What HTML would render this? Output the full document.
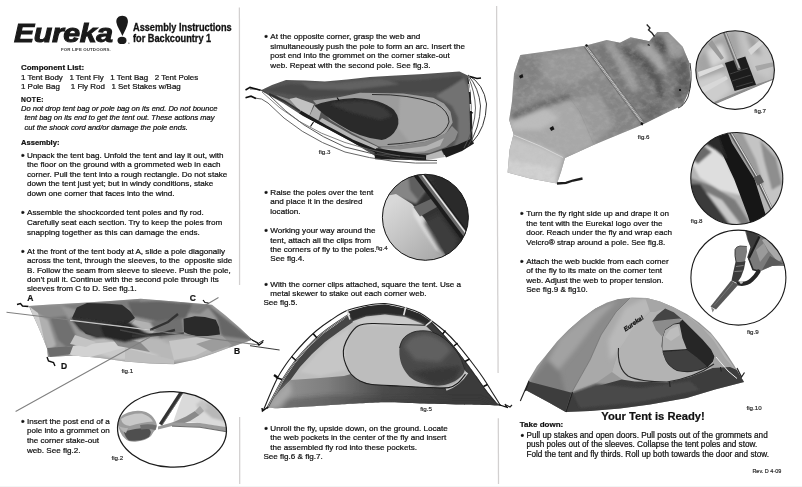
<!DOCTYPE html>
<html><head><meta charset="utf-8"><title>Assembly Instructions for Backcountry 1</title>
<style>
html,body{margin:0;padding:0;background:#fff;}
body{width:802px;height:487px;position:relative;overflow:hidden;font-family:"Liberation Sans",sans-serif;color:#111;}
.t{position:absolute;white-space:nowrap;font-size:8.1px;}
.b{font-weight:bold;}
.i{font-style:italic;}
.t{-webkit-text-stroke:0.22px #111;}
.f{-webkit-text-stroke:0.15px #222;color:#222}
#all{position:absolute;left:0;top:0;width:802px;height:487px;will-change:transform;}
#g{position:absolute;left:0;top:0;}
.fold{position:absolute;width:1px;background:#cfcfcf;}
#logo{position:absolute;left:14px;top:18px;font:italic bold 25.2px/30px "Liberation Sans",sans-serif;transform:scaleX(1.2);transform-origin:0 0;letter-spacing:-0.3px;color:#1a1a1a;-webkit-text-stroke:0.95px #1a1a1a;}
#tag{position:absolute;left:61px;top:47.9px;font:bold 8px/10px "Liberation Sans",sans-serif;transform:scale(0.55,0.47);transform-origin:0 0;white-space:nowrap;letter-spacing:0.2px;color:#3a3a3a;}
#title{position:absolute;left:133.1px;top:21.8px;font:bold 10.6px/11.4px "Liberation Sans",sans-serif;-webkit-text-stroke:0.3px #111;transform:scaleX(0.868);transform-origin:0 0;white-space:nowrap;color:#111;}
#strip{position:absolute;left:0;top:485.5px;width:802px;height:2px;background:#f2f5f5;}
</style></head><body><div id="all">
<div id="strip"></div>
<svg id="g" width="802" height="487" viewBox="0 0 802 487">
<!-- exclamation mark of logo -->
<path d="M122.3 15.8 C126.2 15.8 128.3 18.6 127.9 22.2 C127.5 26.5 124.6 31 122.4 36 C120.6 31 117 26.8 116.4 22.4 C115.9 18.6 118.4 15.8 122.3 15.8 Z" fill="#1a1a1a"/>
<ellipse cx="122" cy="40.4" rx="4.5" ry="3.7" fill="#1a1a1a"/>
<circle cx="128.9" cy="43.2" r="0.6" fill="#444"/>

<defs>
<filter id="b05" x="-5%" y="-5%" width="110%" height="110%"><feGaussianBlur stdDeviation="0.5"/></filter>
<filter id="b1" x="-5%" y="-5%" width="110%" height="110%"><feGaussianBlur stdDeviation="1"/></filter>
<filter id="b2" x="-10%" y="-10%" width="120%" height="120%"><feGaussianBlur stdDeviation="2"/></filter>
<filter id="b3" x="-10%" y="-10%" width="120%" height="120%"><feGaussianBlur stdDeviation="3.5"/></filter>
<filter id="wr" x="0" y="0" width="100%" height="100%">
<feTurbulence type="fractalNoise" baseFrequency="0.16 0.2" numOctaves="3" seed="7" result="n"/>
<feColorMatrix in="n" type="matrix" values="0 0 0 0 0.5  0 0 0 0 0.5  0 0 0 0 0.5  1.6 0 0 0 -0.62"/>
<feComposite in2="SourceGraphic" operator="in"/>
</filter>
<filter id="wr2" x="0" y="0" width="100%" height="100%">
<feTurbulence type="turbulence" baseFrequency="0.11 0.2" numOctaves="2" seed="3" result="n"/>
<feColorMatrix in="n" type="matrix" values="0 0 0 0 0.92  0 0 0 0 0.92  0 0 0 0 0.92  3.2 0 0 0 -0.62"/>
<feComposite in2="SourceGraphic" operator="in"/>
</filter>
<filter id="wr3" x="0" y="0" width="100%" height="100%">
<feTurbulence type="turbulence" baseFrequency="0.13 0.22" numOctaves="2" seed="11" result="n"/>
<feColorMatrix in="n" type="matrix" values="0 0 0 0 0.2  0 0 0 0 0.2  0 0 0 0 0.2  0 3.2 0 0 -0.7"/>
<feComposite in2="SourceGraphic" operator="in"/>
</filter>
</defs>

<!-- fig.1 flat tent with poles -->
<g id="fig1">
<clipPath id="c1"><path d="M28.8 306 L50 304.5 L78.5 303 L110 301 L140.7 298.7 L175 301.5 L212 304.8 L225 315 L240 328 L252.4 339.7 L240 344 L229.7 347.6 L212 354 L194.8 359.8 L173.9 364.2 L150 363.5 L125 361.5 L100 358 L73.3 355.4 L58 356.5 L48 357 L47 348.5 L43 338 L37 324 Z"/></clipPath>
<g filter="url(#b05)">
<g clip-path="url(#c1)">
<rect x="20" y="295" width="240" height="75" fill="#979797"/>
<g filter="url(#b1)">
<!-- left side grey folds -->
<path d="M29 306 L60 305 L70 320 L80 345 L75 356 L48 357 L40 330 Z" fill="#8a8a8a"/>
<path d="M50 318 L66 316 L78 340 L72 352 L58 340 Z" fill="#707070"/>
<path d="M34 312 L48 320 L56 345 L48 352 Z" fill="#b0b0b0"/>
<!-- light bottom area -->
<path d="M75 345 L110 335 L150 338 L190 340 L230 338 L245 342 L195 360 L150 364 L100 358 L73 356 Z" fill="#b8b8b8"/>
<path d="M85 350 L130 345 L160 356 L120 360 Z" fill="#cacaca"/>
<path d="M160 340 L200 336 L225 340 L190 352 Z" fill="#aaaaaa"/>
<!-- top strip -->
<path d="M60 305 L140 299 L212 305 L200 314 L140 308 L80 311 Z" fill="#7c7c7c"/>
<path d="M140 300 L180 302 L185 318 L160 322 L138 314 Z" fill="#969696"/>
<!-- right triangle darker -->
<path d="M205 303 L253 340 L232 346 L221 334 L217 318 Z" fill="#666"/>
<path d="M222 336 L252 340 L230 348 Z" fill="#8c8c8c"/>
</g>
<g filter="url(#b05)">
<path d="M30 307 L38 313 L46 347 L42 342 L34 322 Z" fill="#cdcdcd"/>
<path d="M52 349 L87 344 L122 341 L126 347 L87 358 L73 355.5 Z" fill="#d2d2d2"/>
<path d="M75 335 L96 342 L86 347 L70 344 Z" fill="#c4c4c4"/>
<path d="M135 320 L160 325 L151 335 L125 332 Z" fill="#b2b2b2"/>
<path d="M169 341 L198 337 L223 342 L195 356 L174 360 Z" fill="#c6c6c6"/>
<path d="M125 348 L174 360 L174 364 L125 361.5 Z" fill="#bebebe"/>
<path d="M47 348 L73 346 L70 354 L50 357 Z" fill="#6c6c6c"/>
<path d="M110 336 L140 342 L150 352 L118 346 Z" fill="#8a8a8a"/>
<path d="M160 305 L185 308 L182 316 L165 314 Z" fill="#a8a8a8"/>
<path d="M196 344 L222 336 L232 345 L212 352 Z" fill="#9c9c9c"/>
</g>
<g filter="url(#b1)"><path d="M128 302 L160 301 L192 304 L186 318 L160 322 L132 316 Z" fill="#636363"/><path d="M150 322 L182 318 L184 332 L160 338 Z" fill="#707070"/></g>
<!-- dark patch left -->
<path d="M76.8 307.5 L87 303 L105 303.5 L122 304.8 L130 311 L135 318 L128 323 L120 327 L108 333 L98 337 L86 334 L78 326 L72 318 Z" fill="#2e2e2e"/>
<g filter="url(#b1)">
<path d="M70 318 L100 322 L130 327 L150 334 L120 338 L96 338 L80 330 Z" fill="#3a3a3a"/>
<path d="M100 326 L128 322 L138 328 L150 336 L125 342 L105 338 Z" fill="#262626"/>
</g>
<!-- dark patch right -->
<path d="M183.5 318.8 L194.8 316.2 L205 317 L215.8 319.7 L219 327 L220 334.5 L208 336 L196.5 336.2 L188 334 L184 331.9 Z" fill="#2a2a2a"/>
<!-- dark sleeves middle -->
<path d="M150 330 L168 322 L178 314 M132 336 L160 334 L175 330" stroke="#333" stroke-width="2.4" fill="none"/>
<path d="M120 330 L150 336 L184 333" stroke="#444" stroke-width="1.6" fill="none"/>
</g>
<!-- poles -->
<path d="M6.5 312.2 L120 326 L259 345" stroke="#808080" stroke-width="1.1" fill="none"/>
<path d="M70 320.3 L150 330" stroke="#d8d8d8" stroke-width="0.9" fill="none"/>
<path d="M218.5 297.5 L196.5 310.5 M150 337 L15.6 411.5" stroke="#808080" stroke-width="1.1" fill="none"/>
<!-- stake loops -->
<path d="M17 304.5 l3.5 -1 l2 2.5 l6 0.5" stroke="#111" stroke-width="1.4" fill="none"/>
<path d="M47 357 l1.5 4 l5 1.5 l1.5 3.5" stroke="#111" stroke-width="1.4" fill="none"/>
<path d="M252 340 l5 2.5 l2 2.5 l4 -3" stroke="#111" stroke-width="1.3" fill="none"/>
<path d="M203 300 l2 2.5 l3.5 0.5" stroke="#111" stroke-width="1.2" fill="none"/>
</g>
</g>

<!-- fig.3 tent with poles arced -->
<g id="fig3">
<clipPath id="c3"><path d="M260.5 90.4 L272 85 L286 80 L305 80.5 L324.8 81.5 L347 79.5 L369.7 77 L396 75.5 L423.5 74 L445 72.5 L459.5 71.6 L467.8 75.5 L470.5 92 L472 113.9 L472.5 140 L463 147 L446.2 154.8 L432 157.5 L410 157 L376 156.5 L352 142 L326 128 L303 116 L283 103 Z"/></clipPath>
<g filter="url(#b05)">
<g clip-path="url(#c3)">
<rect x="250" y="65" width="240" height="100" fill="#555"/>
<g filter="url(#b1)">
<path d="M262 90 L290 84 L330 86 L370 82 L420 80 L460 76 L466 80 L440 92 L400 93 L360 94 L312 98 Z" fill="#4a4a4a"/>
<path d="M300 82 L340 83 L380 79 L400 84 L350 90 L310 89 Z" fill="#626262"/>
<path d="M436 96 L452 86 L464 78 L470 92 L471 140 L462 148 L452 150 L458 136 L458 118 L452 106 Z" fill="#727272"/>
</g>
<!-- light body (inside zipper arc) -->
<path d="M313 100.5 L340 97 L360 92.8 L403 93.4 L433.3 97.7 L444 103.5 L450.5 111.7 L452.7 122.5 L446.2 133.3 L436 138.5 L424.7 141.9 L394.5 146.2 L378.7 146.5 L352 133 L330 120 Z" fill="#9c9c9c"/>
<g filter="url(#b1)"><path d="M400 96 L430 99 L446 108 L450 122 L444 133 L428 140 L410 143 L398 128 Z" fill="#a6a6a6"/></g>
<!-- strip below arc -->
<path d="M378.7 146.5 L394.5 146.2 L424.7 141.9 L446.2 133.3 L452 126 L458 132 L455 140 L446 147 L430 153 L410 154 L392 153.5 Z" fill="#8a8a8a"/>
<path d="M380 148.5 L400 149.5 L426 146 L444 138 L440 146 L424 151.5 L400 152.5 Z" fill="#b2b2b2"/>
<!-- left light panel -->
<path d="M289 99 L296 97.5 L314 104 L309 116.5 L300 111.5 Z" fill="#c2c2c2"/>
<path d="M276 95 L289 99 L300 111 L290 106 Z" fill="#8a8a8a"/>
<path d="M309 117 L315 104.5 L322 108 L318 122 Z" fill="#b0b0b0"/>
<!-- strip beside sleeve (light) -->
<path d="M318 122 L322 118 L352 135 L378 147 L376 151 L350 139 Z" fill="#b5b5b5"/>
<!-- door -->
<path d="M314.3 105.4 Q330 99 354.7 97.9 Q382 99 394 110 Q401 119 397 128 Q392 138 381.7 140 Q360 138 339.8 125 Q322 114 314.3 105.4 Z" fill="#2b2b2b"/>
<g filter="url(#b1)"><path d="M330 104 Q350 100 370 102 Q385 106 392 116 L380 120 L350 112 Z" fill="#3a3a3a"/></g>
<!-- door zipper arc -->
<path d="M372 94.5 Q410 94 435.5 103.5 Q449 111 449 122 Q446 132 435.5 137 Q415 143 387.6 144.5" stroke="#222" stroke-width="0.9" fill="none"/>
<!-- black sleeve bottom -->
<path d="M300 112 L326 127 L352 141 L376 151" stroke="#1a1a1a" stroke-width="3.4" fill="none"/>


<path d="M269 94 L284 101 L300 111" stroke="#333" stroke-width="2" fill="none"/>
<!-- right vertical black -->
<path d="M468.5 78 L470.5 100 L471.5 140" stroke="#222" stroke-width="2.2" fill="none"/>
<path d="M469.3 84 l0.6 8 M470.6 104 l0.4 7" stroke="#ddd" stroke-width="2" fill="none"/>
</g>
<!-- thick sleeves -->
<path d="M376 148.2 L426 155.2 L426.5 160.3 L375 159.2 L374.5 153.5 Z" fill="#1c1c1c"/>
<path d="M377 153.8 L425 158" stroke="#555" stroke-width="0.6" fill="none"/>
<path d="M441.5 149.5 L457 145 L471.5 138.5 L474 143.5 L462 151 L446 157.5 Z" fill="#1c1c1c"/>
<path d="M426 155.5 L441.5 150.5 L445 157 L427 160 Z" fill="#b8b8b8"/>
<!-- poles left -->
<path d="M250 89 Q263 88 270 96 Q300 128 345 147 Q400 162 437 160.5" stroke="#444" stroke-width="0.9" fill="none"/>
<path d="M254 98 Q262 97.5 268 103 Q298 135 345 152 Q395 165 437 163" stroke="#555" stroke-width="0.9" fill="none"/>
<path d="M262 92 Q296 126 345 142.5 Q380 153 400 156" stroke="#666" stroke-width="0.8" fill="none"/>
<path d="M245.5 90 l4.5 -2.6 l6 1.6 l4.5 1.2 M245.5 97.8 l5.5 -1.6 l5 2.2" stroke="#111" stroke-width="1.6" fill="none"/>
<!-- poles right -->
<path d="M468 75 Q484 84 486.5 104 Q486 128 472 142.5" stroke="#333" stroke-width="1" fill="none"/>
<path d="M468 75 Q479 88 480.5 106 Q480 128 468 146" stroke="#444" stroke-width="1" fill="none"/>
<path d="M468 76 Q475 92 475.5 108 Q475 128 464 148" stroke="#555" stroke-width="0.9" fill="none"/>
<path d="M470 76.5 L477 78.5 L481 78" stroke="#111" stroke-width="1.6" fill="none"/>
<path d="M313.5 122 l-3 4.5 M339 100.5 l-2 -3 M470 112 l3 1" stroke="#111" stroke-width="1.2" fill="none"/>
</g>
</g>

<!-- fig.2 hand inserting pole -->
<g id="fig2">
<clipPath id="c2"><ellipse cx="172" cy="429.4" rx="54.5" ry="37.8" transform="rotate(2.5 172 429.4)"/></clipPath>
<g filter="url(#b05)">
<g clip-path="url(#c2)">
<rect x="115" y="390" width="115" height="80" fill="#fff"/>
<!-- fabric right -->
<path d="M184 392 L200 396 L215 405 L226 420 L228 428 L205 424 L186 421.5 L173 422.5 L178 408 Z" fill="#dadada"/>
<g filter="url(#b1)">
<path d="M200 400 L215 406 L227 422 L212 418 L203 410 Z" fill="#b8b8b8"/>
<path d="M196 404 L204 400 L208 408 L200 414 Z" fill="#c4c4c4"/>
</g>
<path d="M171.5 423 L186 416.5 L195 411 L199.5 415 L190 421 L177 426 Z" fill="#8a8a8a"/>
<path d="M195 411 L200 406 L204 411 L199.5 415 Z" fill="#a8a8a8"/>
<path d="M158 426.5 L172 422.5 L200 423 L228 427.5 L228 432 L200 427 L172 426 L158 429.5 Z" fill="#9c9c9c"/>
<path d="M172 426.2 L200 427.3 L228 432" stroke="#4a4a4a" stroke-width="0.8" fill="none"/>
<!-- pole -->
<path d="M182.3 391 L160.5 424.5" stroke="#333" stroke-width="3.7" fill="none"/>
<path d="M183.6 392 L162 425" stroke="#777" stroke-width="0.8" fill="none"/>
<!-- hand -->
<path d="M118 424 Q118.5 416 128 412.5 Q137 409.5 146 412 Q152 414.5 155 420 Q158 425 156 429 Q153 432 151 436 Q146 440.5 137 441.5 Q129 442.5 125 438.5 Q119 433 118 424 Z" fill="#9c9c9c"/>
<g filter="url(#b05)">
<path d="M121 419 Q130 413 142 413.5 Q150 416 153 421.5 Q142 422 130 426 Q122 425 121 419 Z" fill="#c8c8c8"/>
<path d="M124 432 Q134 428 148 428 Q153 431 149 437 Q140 442 129 440.5 Q125 437 124 432Z" fill="#505050"/>
<path d="M140 425 Q150 423.5 156.5 425.5 L155.5 430 Q148 428.5 141 429.5 Z" fill="#6e6e6e"/>
<path d="M119 426 Q122 428 128 428 L126 433 Q121 431 119 426Z" fill="#b4b4b4"/>
</g>
</g>
<ellipse cx="172" cy="429.4" rx="54.5" ry="37.8" transform="rotate(2.5 172 429.4)" fill="none" stroke="#1a1a1a" stroke-width="1.25"/>
</g>
</g>

<!-- fig.5 tent body with poles -->
<g id="fig5">
<clipPath id="c5"><path d="M268.5 407.6 C265.6 406.0 274.0 397.6 276.0 394.0 C278.0 390.4 282.6 381.8 285.0 378.0 C287.4 374.2 293.1 365.7 296.0 362.0 C298.9 358.3 305.8 350.4 309.0 347.0 C312.2 343.6 319.6 336.8 323.0 334.0 C326.4 331.2 333.8 326.3 337.0 324.0 C340.2 321.7 348.7 316.0 350.0 314.5 C351.3 313.0 346.1 312.5 348.0 311.5 C349.9 310.5 361.6 307.2 366.0 306.3 C370.4 305.4 380.3 304.0 385.0 304.3 C389.7 304.6 401.3 307.5 405.5 308.6 C409.7 309.7 416.9 312.3 420.0 313.8 C423.1 315.3 428.7 319.1 431.5 321.5 C434.3 323.9 440.2 330.5 443.0 333.5 C445.8 336.5 451.9 343.3 454.5 346.5 C457.1 349.7 462.4 357.0 465.0 360.5 C467.6 364.0 473.4 371.8 476.0 375.5 C478.6 379.2 484.5 387.7 487.0 391.0 C489.5 394.3 495.4 401.3 497.0 403.0 C498.6 404.7 504.7 405.2 500.3 405.4 C495.9 405.6 469.6 404.7 460.0 404.5 C450.4 404.3 429.0 403.8 420.0 403.5 C411.0 403.2 394.6 402.2 385.0 402.3 C375.4 402.4 350.2 403.9 340.0 404.5 C329.8 405.1 308.6 406.6 300.0 407.0 C291.4 407.4 271.4 409.2 268.5 407.6 Z"/></clipPath>
<linearGradient id="g5" x1="275" y1="0" x2="450" y2="0" gradientUnits="userSpaceOnUse"><stop offset="0" stop-color="#949494"/><stop offset="0.3" stop-color="#7e7e7e"/><stop offset="0.62" stop-color="#4c4c4c"/><stop offset="1" stop-color="#3a3a3a"/></linearGradient>
<g filter="url(#b05)">
<g clip-path="url(#c5)">
<rect x="255" y="300" width="260" height="115" fill="#bdbdbd"/>
<path d="M348.0 311.5 L366.0 306.3 L385.0 304.3 L405.5 308.6 L420.0 313.8 L431.5 321.5 L426.0 325.5 L405.0 317.0 L385.0 314.5 L366.0 316.5 L352.0 321.5 Z" fill="#2c2c2c"/>
<path d="M268.5 407.6 L276.0 394.0 L285.0 378.0 L296.0 362.0 L309.0 347.0 L323.0 334.0 L337.0 324.0 L350.0 314.5 L353.0 322.0 L340.0 331.0 L325.0 342.0 L312.0 354.0 L300.0 367.0 L290.5 380.0 L279.0 392.0 Z" fill="#454545"/>
<path d="M431.5 321.5 L443.0 333.5 L454.5 346.5 L465.0 360.5 L476.0 375.5 L470.0 377.0 L460.0 364.0 L449.0 350.0 L438.0 337.5 L426.0 326.0 Z" fill="#3a3a3a"/>
<g filter="url(#b1)"><path d="M352 322 L366 317 L385 315 L405 317 L425 325 L400 326 L362 325 Z" fill="#cbcbcb"/>
<path d="M300 372 L330 340 L350 328 L345 350 L346 370 L320 376 Z" fill="#c6c6c6"/></g>
<path d="M262.0 412.0 L279.0 392.0 L290.5 380.0 L320.0 378.0 L344.0 376.0 L351.0 374.0 L360.0 381.0 L372.0 384.5 L400.0 386.0 L430.0 387.5 L448.7 387.6 L458.0 383.0 L465.5 374.1 L471.0 372.5 L478.0 377.0 L502.0 406.0 L400.0 412.0 Z" fill="url(#g5)"/>
<g filter="url(#b2)"><path d="M285 399 L330 395 L400 397.5 L480 398 L502 408 L270 412 Z" fill="#3a3a3a" opacity="0.38"/>
<path d="M268 408 L279 392 L290 381 L292 392 L280 408 Z" fill="#b0b0b0" opacity="0.7"/></g>
<path d="M465 361 L470 359 L490 390 L501 406 L484 382 L472 371 Z" fill="#707070"/>
<path d="M399.5 348.0 C399.9 344.3 401.2 341.4 403.0 339.0 C404.8 336.6 407.4 334.8 410.0 333.5 C412.6 332.2 415.2 331.3 418.5 331.0 C421.8 330.7 426.1 330.5 430.0 331.5 C433.9 332.5 438.3 334.6 442.0 337.0 C445.7 339.4 449.0 342.7 452.0 346.0 C455.0 349.3 457.9 353.1 460.0 357.0 C462.1 360.9 465.1 365.8 464.8 369.5 C464.5 373.2 461.4 376.4 458.0 379.0 C454.6 381.6 449.2 384.0 444.2 384.9 C439.2 385.8 433.0 385.3 428.0 384.5 C423.0 383.7 417.7 382.1 414.0 380.0 C410.3 377.9 407.9 375.2 405.7 372.0 C403.4 368.8 401.5 365.0 400.5 361.0 C399.5 357.0 399.1 351.7 399.5 348.0 Z" fill="#4a4a4a"/>
<g filter="url(#b2)"><path d="M404 346 Q410 335 425 334 Q440 336 452 350 L440 362 L415 360 Z" fill="#606060"/><path d="M410 372 L440 368 L462 366 L455 380 L435 386 Z" fill="#383838"/></g>
<path d="M446 389.3 Q459 385 467 372.5" stroke="#c6c6c6" stroke-width="3" fill="none"/>
<path d="M425.0 325.3 C420.8 325.2 408.8 324.8 400.0 324.5 C391.2 324.2 379.0 323.2 372.0 323.5 C365.0 323.8 361.8 324.0 358.0 326.0 C354.2 328.0 351.7 331.9 349.4 335.4 C347.1 338.9 345.0 343.6 344.0 347.0 C343.0 350.4 343.2 353.0 343.5 356.0 C343.8 359.0 344.8 362.0 346.0 365.0 C347.2 368.0 348.7 371.3 351.0 374.0 C353.3 376.7 356.5 379.2 360.0 381.0 C363.5 382.8 365.3 383.7 372.0 384.5 C378.7 385.3 390.3 385.5 400.0 386.0 C409.7 386.5 421.9 387.2 430.0 387.5 C438.1 387.8 444.0 388.4 448.7 387.6 C453.4 386.9 455.2 385.2 458.0 383.0 C460.8 380.8 464.2 375.6 465.5 374.1" stroke="#1e1e1e" stroke-width="1.1" fill="none"/>
<path d="M399.5 348.0 C400.1 346.5 401.2 341.4 403.0 339.0 C404.8 336.6 407.4 334.8 410.0 333.5 C412.6 332.2 415.2 331.3 418.5 331.0 C421.8 330.7 426.1 330.5 430.0 331.5 C433.9 332.5 438.3 334.6 442.0 337.0 C445.7 339.4 449.0 342.7 452.0 346.0 C455.0 349.3 457.9 353.1 460.0 357.0 C462.1 360.9 464.0 367.4 464.8 369.5" stroke="#222" stroke-width="0.8" fill="none"/>
</g>
<path d="M263.5 410.0 C264.8 407.0 268.6 397.5 271.0 392.0 C273.4 386.5 275.6 381.5 278.0 377.0 C280.4 372.5 283.0 368.7 285.5 365.0 C288.0 361.3 289.9 358.8 293.0 355.0 C296.1 351.2 300.2 346.5 304.0 342.5 C307.8 338.5 311.5 334.8 316.0 331.0 C320.5 327.2 325.8 323.4 331.0 320.0 C336.2 316.6 341.2 313.0 347.0 310.6 C352.8 308.2 359.7 306.7 366.0 305.5 C372.3 304.3 378.4 303.1 385.0 303.5 C391.6 303.9 399.9 306.2 405.7 307.8 C411.5 309.4 415.7 310.9 420.0 313.0 C424.3 315.1 427.2 317.6 431.4 320.7 C435.6 323.8 440.7 327.6 445.0 331.5 C449.3 335.4 452.8 339.1 457.0 343.8 C461.2 348.6 465.7 354.4 470.0 360.0 C474.3 365.6 479.0 371.9 482.7 377.2 C486.4 382.5 489.0 387.3 492.0 392.0 C495.0 396.7 499.1 403.2 500.5 405.5" stroke="#1c1c1c" stroke-width="1.1" fill="none"/>
<path d="M267.0 408.5 C268.3 406.0 272.2 398.7 275.0 393.5 C277.8 388.3 280.7 382.8 284.0 377.5 C287.3 372.2 291.0 366.7 295.0 361.5 C299.0 356.3 303.5 351.2 308.0 346.5 C312.5 341.8 317.3 337.4 322.0 333.5 C326.7 329.6 331.5 326.5 336.0 323.3 C340.5 320.1 346.8 316.0 349.0 314.5" stroke="#2a2a2a" stroke-width="1.8" fill="none"/>
<path d="M267.0 408.5 C268.3 406.0 272.2 398.7 275.0 393.5 C277.8 388.3 280.7 382.8 284.0 377.5 C287.3 372.2 291.0 366.7 295.0 361.5 C299.0 356.3 303.5 351.2 308.0 346.5 C312.5 341.8 317.3 337.4 322.0 333.5 C326.7 329.6 331.5 326.5 336.0 323.3 C340.5 320.1 346.8 316.0 349.0 314.5" stroke="#eee" stroke-width="0.6" fill="none"/>
<path d="M431.0 322.5 C432.9 324.4 438.7 329.9 442.5 334.0 C446.3 338.1 450.3 342.5 454.0 347.0 C457.7 351.5 460.9 356.2 464.5 361.0 C468.1 365.8 471.8 370.9 475.5 376.0 C479.2 381.1 483.0 386.9 486.5 391.5 C490.0 396.1 494.8 401.5 496.5 403.5" stroke="#2a2a2a" stroke-width="0.9" fill="none"/>
<path d="M313 333.5 l4 4.5 M291.5 356.5 l4.5 4 M276 377.5 l6 2 M445.5 330.5 l-3 3.5 M457.5 343 l-3.5 3 M469.5 359 l-4.5 2.5 M487.5 384.5 l-4 2" stroke="#111" stroke-width="1.6" fill="none"/>
<path d="M347 310.6 l3 9 M405.7 307.3 l-2 8 M432 320.5 l-6 5" stroke="#e2e2e2" stroke-width="1.6" fill="none"/>
<path d="M274 375 l3.5 2.5" stroke="#111" stroke-width="2.2" fill="none"/>
<path d="M268 407 l-5.5 4 l-0.5 -3" stroke="#111" stroke-width="1.5" fill="none"/>
<path d="M499 404.8 l9 2.8 M505 404 l2 3.6" stroke="#111" stroke-width="1.2" fill="none"/>
<path d="M250 338.5 L258 343.5 L263 340.5 M262 343 l1.5 -3 M250 345.7 L279.6 350" stroke="#222" stroke-width="0.9" fill="none"/>
</g>
</g>

<!-- fig.6 fly on the ground -->
<g id="fig6">
<clipPath id="c6"><path d="M520.3 55.1 L553 50.5 L585 45.8 L606.7 40 L620 42.7 L630.7 37.3 L649.3 41.3 L657.3 32 L668 32 L682.7 46.7 L689.3 62.7 L690.7 86.7 L682.7 105.3 L668 112 L641.3 125.3 L620 134 L592.4 145.5 L565 158 L561 172 L557 183.5 L530 178.5 L507.6 172.5 L509.5 150 L513.6 134 L509.2 120 L512 101 L514 73.8 Z"/></clipPath>
<g filter="url(#b05)">
<g clip-path="url(#c6)">
<rect x="500" y="20" width="200" height="170" fill="#8a8a8a"/>
<g filter="url(#b2)">
<!-- area below fold: lighter -->
<path d="M506 119 L540 107 L569 97 L580 110 L596 146 L566 158 L556 186 L504 175 Z" fill="#a8a8a8"/>
<path d="M510 116 L545 108 L560 118 L540 130 L512 130 Z" fill="#bcbcbc"/>
<!-- lower flap: lightest -->
<path d="M506 135 L540 146 L563 157 L557 187 L503 176 Z" fill="#c6c6c6"/>
<path d="M506 160 L555 168 L557 187 L503 176 Z" fill="#d2d2d2"/>
<!-- fold shadow -->
<path d="M511 114 L540 102 L570 93 L572 99 L541 109 L512 121 Z" fill="#6a6a6a"/>
<path d="M516 58 L535 56 L540 80 L516 98 Z" fill="#818181"/>
<path d="M540 55 L585 47 L600 70 L570 85 L545 80 Z" fill="#979797"/>
<!-- right of zipper: darker -->
<path d="M590 46 L622 42 L660 34 L692 60 L692 90 L668 112 L643 124 Z" fill="#787878"/>
<path d="M600 90 L625 100 L640 124 L610 136 Z" fill="#848484"/>
<path d="M572 100 L600 95 L615 125 L596 142 Z" fill="#9a9a9a"/>
<!-- ridge beside zipper -->
<path d="M604 41 L612 42 L630 68 L640 90 L630 90 L618 66 Z" fill="#9c9c9c"/>
<!-- dark fold -->
<path d="M620 45 L632 50 L650 62 L662 80 L665 98 L658 100 L654 84 L642 68 L626 55 Z" fill="#585858"/>
<path d="M636 46 L650 44 L660 56 L668 72 L660 70 L648 56 Z" fill="#a6a6a6"/>
<!-- bunch -->
<path d="M660 34 L672 34 L684 50 L680 60 L668 52 Z" fill="#9a9a9a"/>
<path d="M672 62 L684 56 L690 70 L690 90 L682 104 L674 96 L678 78 Z" fill="#5e5e5e"/>
<path d="M652 40 L662 36 L668 50 L662 54 Z" fill="#4c4c4c"/>
<path d="M640 100 L660 106 L668 112 L645 124 Z" fill="#6a6a6a"/>
</g>
<!-- zipper -->
<path d="M585.6 46 L642.7 123" stroke="#6c6c6c" stroke-width="4.4" fill="none"/>
<path d="M585.6 46 L642.7 123" stroke="#c2c2c2" stroke-width="2.2" fill="none" stroke-dasharray="1.2 0.5"/>
<!-- flap edge lines -->
<path d="M569 97 L580 112 L594 145" stroke="#858585" stroke-width="0.5" fill="none" opacity="0.6"/>
<path d="M512.5 134.5 L540 146 L563 157.5" stroke="#dcdcdc" stroke-width="0.9" fill="none"/>
<rect x="500" y="20" width="200" height="170" fill="#808080" filter="url(#wr)" opacity="0.4"/>
</g>
<!-- small black loops -->
<path d="M519 76 l3.4 -2 l1 3.2 l-3.2 1.4z M549.5 128 l3.5 -2 l1.5 3.3 l-3.3 1.6z M641 122 l2.5 1 l-1 2.5 l-2 -1z M585 45 l2 -1 l1 2 l-2 1z M679 89 l2 0 l0 2 l-2 0z M647 45 l2 -1 l1 2z" fill="#151515"/>
<path d="M646.7 24.5 L650 28 L648.5 30 L652 33 L654.5 36.5" stroke="#222" stroke-width="1.3" fill="none"/>
<path d="M557 183.5 L566 182.8 L573 180.5 L582.5 178.5" stroke="#1c1c1c" stroke-width="2.3" fill="none"/>
<path d="M690 63 Q693 80 688 97 Q684 106 678 108" stroke="#333" stroke-width="1" fill="none"/>
</g>
</g>

<!-- fig.4 clip on pole -->
<g id="fig4">
<clipPath id="c4"><circle cx="425.4" cy="217.3" r="43"/></clipPath>
<linearGradient id="g4" x1="395" y1="200" x2="440" y2="255" gradientUnits="userSpaceOnUse"><stop offset="0" stop-color="#d8d8d8"/><stop offset="0.5" stop-color="#c2c2c2"/><stop offset="1" stop-color="#aaa"/></linearGradient>
<g filter="url(#b05)">
<g clip-path="url(#c4)">
<rect x="380" y="172" width="92" height="92" fill="#333"/>
<!-- upper-left mid gray -->
<g filter="url(#b1)">
<path d="M380 200 L392 185 L405 174 L420 170 L428 188 L416 204 L398 197 Z" fill="#858585"/>
<path d="M408 176 L420 171 L427 188 L418 200 L410 190 Z" fill="#5e5e5e"/>
</g>
<!-- light fabric lower-left -->
<path d="M380 197 L396 194 L412 204 L424 218 L436 236 L446 256 L440 266 L380 266 Z" fill="url(#g4)"/>
<g filter="url(#b1)"><path d="M412 206 L424 220 L436 238 L444 254 L436 250 L424 232 L414 216 Z" fill="#dedede"/></g>
<!-- dark right -->
<g filter="url(#b2)"><path d="M430 175 L470 175 L470 250 L455 255 Z" fill="#2a2a2a"/><path d="M424 222 L440 250 L452 260 L458 240 L440 214 Z" fill="#3c3c3c"/></g>
<!-- clip strap -->
<path d="M413.5 207 L432 198.5 L437 207 L420 216.5 Z" fill="#666"/>
<path d="M432 198 L437.5 195.5 L442 203.5 L437 207 Z" fill="#9a9a9a"/>
<!-- pole -->
<path d="M413.6 167.5 L483.5 260.8" stroke="#1e1e1e" stroke-width="10" fill="none"/>
<path d="M415.2 167.5 L485.1 260.8" stroke="#6a6a6a" stroke-width="5" fill="none"/>
<path d="M416.8 167.5 L486.7 260.8" stroke="#e6e6e6" stroke-width="1.5" fill="none"/>
</g>
<circle cx="425.4" cy="217.3" r="43" fill="none" stroke="#1a1a1a" stroke-width="1"/>
</g>
</g>

<!-- fig.7 fly rod pocket -->
<g id="fig7">
<clipPath id="c7"><circle cx="735.1" cy="70.1" r="39.3"/></clipPath>
<g filter="url(#b05)">
<g clip-path="url(#c7)">
<rect x="694" y="29" width="84" height="84" fill="#b9b9b9"/>
<g filter="url(#b2)">
<path d="M696 60 L715 40 L735 30 L740 55 L720 75 L700 85 Z" fill="#a4a4a4"/>
<path d="M740 32 L765 42 L776 62 L770 80 L752 70 L745 50 Z" fill="#c6c6c6"/>
<path d="M696 80 L722 72 L732 90 L715 104 L700 100 Z" fill="#cdcdcd"/>
<path d="M706 50 L722 44 L728 60 L712 68 Z" fill="#d4d4d4"/>
<path d="M745 34 L756 38 L762 56 L752 52 Z" fill="#a0a0a0"/>
</g>
<g filter="url(#b05)">
<path d="M698 72 L722 64 L724 66.5 L699 77 Z" fill="#dcdcdc"/>
<path d="M700 88 L726 76 L728 79 L704 93 Z" fill="#d8d8d8"/>
<path d="M712 40 L724 58 L721 60 L708 44 Z" fill="#9a9a9a"/>
<path d="M748 50 L760 40 L764 43 L751 55 Z" fill="#d6d6d6"/>
<path d="M755 66 L774 62 L775 66 L757 71 Z" fill="#a6a6a6"/>
<path d="M757 84 L775 78.5 L776 82 L745 92.5 L716 104.5 L714 102 Z" fill="#8e8e8e"/>
</g>
<!-- white lower-right -->
<path d="M713 104.5 L745 91 L776 78 L780 112 L713 112 Z" fill="#fff"/>
<path d="M713 104.5 L745 91 L776 78" stroke="#8a8a8a" stroke-width="1.2" fill="none"/>
<!-- black pocket -->
<path d="M724.9 63.1 L745.3 56.6 L756.1 84.7 L734.6 91.1 Z" fill="#1c1c1c"/>
<path d="M730 74 L748 68 M732 81 L751 75 M736 87 L753 82" stroke="#444" stroke-width="0.9" fill="none"/>
<!-- rod -->
<path d="M724.6 32 L738.9 68.5" stroke="#707070" stroke-width="3.6" fill="none" stroke-linecap="round"/>
<path d="M725.2 32 L739.4 68" stroke="#bdbdbd" stroke-width="1.5" fill="none"/>
</g>
<circle cx="735.1" cy="70.1" r="39.3" fill="none" stroke="#1a1a1a" stroke-width="1.1"/>
</g>
</g>

<!-- fig.8 velcro strap -->
<g id="fig8">
<clipPath id="c8"><circle cx="736.8" cy="178.5" r="46"/></clipPath>
<g filter="url(#b05)">
<g clip-path="url(#c8)">
<rect x="688" y="130" width="98" height="98" fill="#b4b4b4"/>
<g filter="url(#b1)">
<!-- left upper light -->
<path d="M690 160 L706 146 L722 150 L730 170 L744 196 L720 190 L700 178 Z" fill="#dedede"/>
<path d="M690 158 L704 146 L712 152 L698 164 Z" fill="#6a6a6a"/>
<!-- lower-left dark/greys -->
<path d="M690 178 L712 186 L735 200 L752 226 L700 226 L690 200 Z" fill="#7a7a7a"/>
<path d="M690 184 L700 184 L730 226 L712 226 L690 200 Z" fill="#3a3a3a"/>
<path d="M706 192 L722 200 L742 226 L732 226 Z" fill="#c8c8c8"/>
<!-- right side light fabric -->
<path d="M740 132 L760 134 L780 160 L784 190 L770 210 L760 180 L750 150 Z" fill="#c4c4c4"/>
<path d="M760 140 L776 158 L782 184 L772 190 L764 160 Z" fill="#8e8e8e"/>
<path d="M728 134 L742 132 L756 160 L764 186 L752 180 L740 156 Z" fill="#9c9c9c"/>
</g>
<!-- black band -->
<path d="M712 132 L727 131 L732 143 L754.6 179.2 L765.9 215.4 L770 226 L752 229 L747.8 215.4 L734.2 179.2 L717.3 143.1 Z" fill="#161616"/>
<g filter="url(#b1)"><path d="M700 140 L718 134 L728 160 L716 150 Z" fill="#2c2c2c"/></g>
<!-- pole (light) -->
<path d="M729 130 L755.5 175 L774 214" stroke="#555" stroke-width="3" fill="none"/>
<path d="M729.6 130 L756.1 175 L774.6 214" stroke="#d8d8d8" stroke-width="1.2" fill="none"/>
<!-- strap -->
<path d="M753.5 177.5 L760 174.5 L764 182 L757.5 185.5 Z" fill="#5a5a5a"/>
</g>
<circle cx="736.8" cy="178.5" r="46" fill="none" stroke="#1a1a1a" stroke-width="1.1"/>
</g>
</g>

<!-- fig.10 finished tent -->
<g id="fig10">
<clipPath id="c10"><path d="M525.7 390 L528.3 380.8 L537 366 L547 354 L557 341.5 L568.4 330 L582 318 L595 308.7 L607 302.5 L617.8 299.3 L632 297.6 L646.7 298 L660 301.5 L673 307 L686.7 314 L699 322.5 L710.8 332.7 L719 343 L726.8 354 L734 365 L740 375.4 L744 382 L715 389.5 L686.7 398 L650 404.5 L620 408.5 L590 411 L565.7 412 L548 402 Z"/></clipPath>
<g filter="url(#b05)">
<g clip-path="url(#c10)">
<rect x="520" y="290" width="230" height="130" fill="#989898"/>
<!-- left face of fly -->
<path d="M525 391 L547 354 L568 330 L595 308 L618 299 L630 298 L616 312 L601 335 L590 360 L572 392 L565 412 Z" fill="#8b8b8b"/>
<g filter="url(#b2)">
<path d="M560 338 L590 312 L618 300 L600 318 L575 350 L550 380 L535 385 Z" fill="#a2a2a2"/>
<path d="M530 382 L548 360 L560 372 L566 395 L545 392 Z" fill="#7c7c7c"/>
</g>
<!-- front face of fly (lighter) -->
<path d="M572 392 L590 360 L601 335 L616 312 L630 298 L660 301 L650 312 L632 330 L618 352 L612 372 L596 383 Z" fill="#a9a9a9"/>
<g filter="url(#b2)"><path d="M625 308 L645 298 L660 302 L640 322 L625 345 L610 360 L608 340 Z" fill="#b9b9b9"/></g>
<!-- tent body light -->
<path d="M612 372 L618 352 L632 330 L650 312 L664 306 L690 317 L712 335 L728 358 L740 377 L720 370 L690 380 L655 388 L630 385 Z" fill="#b3b3b3"/>
<!-- right fly strip -->
<path d="M645 297 L659.4 300.7 L673.7 306.5 L688.1 316.6 L702.5 328 L714 341 L725 358.2 L739.3 374.1 L746 384 L736 378 L724 368 L715.4 358.2 L711.1 349.6 L702.5 339.5 L692.4 329.5 L682.4 319.4 L673.7 312.2 L665.1 308.6 L655 312 L650 312 Z" fill="#a6a6a6"/>
<!-- body top above door (mid gray) -->
<path d="M652.2 320.9 L670.9 318.7 L679.5 318 L682.4 322.3 L673.7 323.7 L665.1 329.5 L662.2 336.7 L656 330 Z" fill="#8c8c8c"/>
<!-- awning dark wedge -->
<path d="M665.1 308.6 L673.7 312.2 L682.4 319.4 L679.5 318.6 L670.9 319.2 L652.2 321.4 L657 315 Z" fill="#444"/>
<!-- door mesh (dark) incl. right part up to fly strip -->
<path d="M661.6 346.3 L662.2 338 L665.1 329.5 L673.7 323.7 L679.5 322.5 L682.4 319.4 L692.4 329.5 L702.5 339.5 L711.1 349.6 L714.5 356.5 L713 361.5 L707.8 366.9 Q700 371 691.3 372 Q683 372.5 677 371 Q669 367 665.7 360.7 Q662.5 354 661.6 346.3 Z" fill="#262626"/>
<g filter="url(#b05)">
<path d="M662.3 347 L662.6 338.1 L665.3 330 L673.7 324.6 L679.5 323.7 L682.4 338.1 L686.7 348.9 L676 349.8 L662.4 350.6 Z" fill="#afafaf"/>
<path d="M662.6 352 L676 351 L687 350 L697 357.5 L706.8 366.3 Q700 370.3 691.3 371.2 Q683 371.7 677 370.2 Q669.5 366.5 666.2 360.5 Z" fill="#404040"/>
<path d="M665 337 L670 329.5 L678 326 L680 335 L671 341 Z" fill="#bdbdbd"/>
</g>
<!-- body panel right of door -->
<path d="M713 352.5 L716.5 358.5 L724 367.5 L716 369 L709.5 367 L713.5 361.5 L714.8 356.5 Z" fill="#a2a2a2"/>
<!-- door zipper outline -->
<path d="M618.5 348 Q617 368 628 376 Q640 382 667 382 Q694 378 714 364" stroke="#2a2a2a" stroke-width="1.1" fill="none"/>

<!-- dark floor band -->
<path d="M525 390 L528.6 381.5 L574.7 393.6 L598 386 L621.7 379.5 L634.7 381.5 L667 382.5 L690 377 L712.5 368 L730 367 L743 372.5 L745 382 L745 420 L520 420 Z" fill="#3d3d3d"/>
<g filter="url(#b1)"><path d="M572 393 L596 384 L640 388 L690 381 L700 390 L640 402 L580 408 Z" fill="#484848"/></g>
<path d="M669.5 382 l0.6 5 M720.5 367 l0.8 4.5" stroke="#222" stroke-width="1.1" fill="none"/>
<!-- ridge line -->
<path d="M630 298 L616 312 L601 335 L590 360 L572 392 L566 411" stroke="#707070" stroke-width="0.7" fill="none"/>
</g>
<!-- poles / guy lines -->
<path d="M529 381 L525.5 391 M529 381 L520.3 401 M572.5 392 L566 412" stroke="#222" stroke-width="1.1" fill="none"/>
<path d="M737 368 L741.5 377 L744.5 372.5" stroke="#222" stroke-width="1.2" fill="none"/>
<path d="M716 357 L728 371 L737 378.5" stroke="#eee" stroke-width="1" fill="none"/>
<path d="M506 405 l4 2 l2 -2" stroke="#222" stroke-width="1.2" fill="none"/>
</g>
<text x="0" y="0" transform="translate(625.5 331.5) rotate(-35)" font-family="Liberation Sans, sans-serif" font-weight="bold" font-style="italic" font-size="6.2" stroke="#151515" stroke-width="0.3" fill="#151515">Eureka!</text>
</g>

<!-- fig.9 web buckle -->
<g id="fig9">
<clipPath id="c9"><circle cx="738.4" cy="277.6" r="47.5"/></clipPath>
<g filter="url(#b05)">
<g clip-path="url(#c9)">
<rect x="690" y="229" width="98" height="98" fill="#fff"/>
<!-- fabric upper right -->
<path d="M744.5 229 L770 229 L786 250 L786 266 L772 266 L760 271.5 L753 269.5 L748 258 L751 248 L747.5 240 Z" fill="#7a7a7a"/>
<path d="M762 240 L770 236 L784 258 L778 262 L768 250 Z" fill="#a8a8a8"/>
<path d="M756 250 L764 243 L768 252 L760 262 Z" fill="#9a9a9a"/>
<path d="M770 256 L784 264 L772 266 L762 270 Z" fill="#5a5a5a"/>
<path d="M746 231 L752 231 L759.5 236.5 L754 246 L749.5 257 L747 258 L750.5 247 L748 240 Z" fill="#3a3a3a"/>
<path d="M759.5 236.5 L749 258" stroke="#1e1e1e" stroke-width="2.2" fill="none"/>
<path d="M748.5 258 L753 269.5 L760 271.5" stroke="#2a2a2a" stroke-width="1.6" fill="none"/>
<!-- upper strap loop -->
<path d="M735.1 249.5 Q736 246.5 740 246 L746.8 246.5 L747 252 L745 261.1 L736.1 262.1 Q734.5 256 735.1 249.5 Z" fill="#7c7c7c"/>
<path d="M735.1 249.5 Q736 246.5 740 246 L746.8 246.5" stroke="#444" stroke-width="0.9" fill="none"/>
<path d="M736.1 262.1 Q734.5 256 735.1 249.5" stroke="#3a3a3a" stroke-width="1" fill="none"/>
<!-- buckle -->
<path d="M735.5 262 L745.5 261 L744 269 L741 277 L737 283 L731.5 280.5 L733.5 271 Z" fill="#3a3a3a"/>
<path d="M736 266.5 L743.5 265.5 M734.5 271.5 L742.5 271" stroke="#8a8a8a" stroke-width="0.9" fill="none"/>
<!-- hook -->
<path d="M738.5 283.5 Q746 285 751.5 280 Q756 276 758.5 271.5" stroke="#262626" stroke-width="4.2" fill="none" stroke-linecap="round"/>
<circle cx="741.2" cy="282.2" r="1.5" fill="#c8c8c8"/>
<!-- lower strap -->
<path d="M731.2 280.5 L738.3 284.8 L716 309.5 L710.5 306.5 Z" fill="#585858"/>
<path d="M733 283 L714 305.5" stroke="#7a7a7a" stroke-width="0.8" fill="none"/>
<path d="M711 307 L714.5 309.5 L712.5 312.5 Z" fill="#8a8a8a"/>
</g>
<circle cx="738.4" cy="277.6" r="47.5" fill="none" stroke="#1a1a1a" stroke-width="1.1"/>
</g>
</g>

<!-- fold lines -->
<g stroke="#d2d0d0" stroke-width="1.25" fill="none">
<path d="M239.4 7.5 L239.6 285"/>
<path d="M239.65 417 L239.7 484"/>
<path d="M496.6 6 L498.1 373"/>
<path d="M498.3 418.3 L498.5 484"/>
</g>


</svg>
<div id="logo">Eureka</div>
<div id="tag">FOR LIFE OUTDOORS.</div>
<div id="title">Assembly Instructions<br>for Backcountry 1</div>
<div class="t b" style="left:21.0px;top:63px;font-size:7.95px;line-height:9px;">Component List:</div>
<div class="t " style="left:21.0px;top:73px;font-size:7.95px;line-height:9px;">1 Tent Body&nbsp;&nbsp; 1 Tent Fly&nbsp;&nbsp; 1 Tent Bag&nbsp;&nbsp; 2 Tent Poles</div>
<div class="t " style="left:21.0px;top:82px;font-size:7.95px;line-height:9px;">1 Pole Bag&nbsp;&nbsp;&nbsp;&nbsp; 1 Fly Rod&nbsp;&nbsp; 1 Set Stakes w/Bag</div>
<div class="t b" style="left:21.0px;top:96px;font-size:6.7px;line-height:7px;letter-spacing:0.42px;">NOTE:</div>
<div class="t i" style="left:21.0px;top:104px;font-size:7.54px;line-height:9px;">Do not drop tent bag or pole bag on its end. Do not bounce</div>
<div class="t i" style="left:24.5px;top:113px;font-size:7.54px;line-height:9px;">tent bag on its end to get the tent out. These actions may</div>
<div class="t i" style="left:24.5px;top:123px;font-size:7.54px;line-height:9px;">cut the shock cord and/or damage the pole ends.</div>
<div class="t b" style="left:21.0px;top:138px;font-size:7.6px;line-height:9px;">Assembly:</div>
<div class="t " style="left:21.1px;top:149px;font-size:10.5px;line-height:12px;">•</div>
<div class="t " style="left:27.0px;top:151px;font-size:8.1px;line-height:9px;">Unpack the tent bag. Unfold the tent and lay it out, with</div>
<div class="t " style="left:27.0px;top:160px;font-size:8.1px;line-height:9px;">the floor on the ground with a grommeted web in each</div>
<div class="t " style="left:27.0px;top:170px;font-size:8.1px;line-height:9px;">corner. Pull the tent into a rough rectangle. Do not stake</div>
<div class="t " style="left:27.0px;top:179px;font-size:8.1px;line-height:9px;">down the tent just yet; but in windy conditions, stake</div>
<div class="t " style="left:27.0px;top:189px;font-size:8.1px;line-height:9px;">down one corner that faces into the wind.</div>
<div class="t " style="left:21.1px;top:206px;font-size:10.5px;line-height:12px;">•</div>
<div class="t " style="left:27.0px;top:208px;font-size:8.1px;line-height:9px;">Assemble the shockcorded tent poles and fly rod.</div>
<div class="t " style="left:27.0px;top:218px;font-size:8.1px;line-height:9px;">Carefully seat each section. Try to keep the poles from</div>
<div class="t " style="left:27.0px;top:228px;font-size:8.1px;line-height:9px;">snapping together as this can damage the ends.</div>
<div class="t " style="left:21.1px;top:245px;font-size:10.5px;line-height:12px;">•</div>
<div class="t " style="left:27.0px;top:247px;font-size:8.1px;line-height:9px;">At the front of the tent body at A, slide a pole diagonally</div>
<div class="t " style="left:27.0px;top:256px;font-size:8.1px;line-height:9px;">across the tent, through the sleeves, to the&nbsp; opposite side</div>
<div class="t " style="left:27.0px;top:266px;font-size:8.1px;line-height:9px;">B. Follow the seam from sleeve to sleeve. Push the pole,</div>
<div class="t " style="left:27.0px;top:275px;font-size:8.1px;line-height:9px;">don’t pull it. Continue with the second pole through its</div>
<div class="t " style="left:27.0px;top:284px;font-size:8.1px;line-height:9px;">sleeves from C to D. See fig.1.</div>
<div class="t b" style="left:27.2px;top:293px;font-size:8.5px;line-height:10px;">A</div>
<div class="t b" style="left:189.8px;top:293px;font-size:8.5px;line-height:10px;">C</div>
<div class="t b" style="left:234.0px;top:346px;font-size:8.5px;line-height:10px;">B</div>
<div class="t b" style="left:61.1px;top:361px;font-size:8.5px;line-height:10px;">D</div>
<div class="t f" style="left:121.5px;top:367px;font-size:6.2px;line-height:7px;">fig.1</div>
<div class="t " style="left:21.1px;top:415px;font-size:10.5px;line-height:12px;">•</div>
<div class="t " style="left:27.0px;top:417px;font-size:8.1px;line-height:9px;">Insert the post end of a</div>
<div class="t " style="left:27.0px;top:426px;font-size:8.1px;line-height:9px;">pole into a grommet on</div>
<div class="t " style="left:27.0px;top:436px;font-size:8.1px;line-height:9px;">the corner stake-out</div>
<div class="t " style="left:27.0px;top:446px;font-size:8.1px;line-height:9px;">web. See fig.2.</div>
<div class="t f" style="left:111.5px;top:454px;font-size:6.2px;line-height:7px;">fig.2</div>
<div class="t " style="left:264.3px;top:30px;font-size:10.5px;line-height:12px;">•</div>
<div class="t " style="left:270.3px;top:32px;font-size:8.1px;line-height:9px;">At the opposite corner, grasp the web and</div>
<div class="t " style="left:270.3px;top:42px;font-size:8.1px;line-height:9px;">simultaneously push the pole to form an arc. Insert the</div>
<div class="t " style="left:270.3px;top:51px;font-size:8.1px;line-height:9px;">post end into the grommet on the corner stake-out</div>
<div class="t " style="left:270.3px;top:61px;font-size:8.1px;line-height:9px;">web. Repeat with the second pole. See fig.3.</div>
<div class="t f" style="left:318.7px;top:148px;font-size:6.2px;line-height:7px;">fig.3</div>
<div class="t " style="left:264.3px;top:186px;font-size:10.5px;line-height:12px;">•</div>
<div class="t " style="left:270.3px;top:188px;font-size:8.1px;line-height:9px;">Raise the poles over the tent</div>
<div class="t " style="left:270.3px;top:197px;font-size:8.1px;line-height:9px;">and place it in the desired</div>
<div class="t " style="left:270.3px;top:207px;font-size:8.1px;line-height:9px;">location.</div>
<div class="t " style="left:264.3px;top:224px;font-size:10.5px;line-height:12px;">•</div>
<div class="t " style="left:270.3px;top:226px;font-size:8.1px;line-height:9px;">Working your way around the</div>
<div class="t " style="left:270.3px;top:236px;font-size:8.1px;line-height:9px;">tent, attach all the clips from</div>
<div class="t " style="left:270.3px;top:245px;font-size:8.1px;line-height:9px;">the corners of fly to the poles.</div>
<div class="t " style="left:270.3px;top:254px;font-size:8.1px;line-height:9px;">See fig.4.</div>
<div class="t f" style="left:376.0px;top:244px;font-size:6.2px;line-height:7px;">fig.4</div>
<div class="t " style="left:264.3px;top:278px;font-size:10.5px;line-height:12px;">•</div>
<div class="t " style="left:270.3px;top:280px;font-size:8.1px;line-height:9px;">With the corner clips attached, square the tent. Use a</div>
<div class="t " style="left:270.3px;top:289px;font-size:8.1px;line-height:9px;">metal skewer to stake out each corner web.</div>
<div class="t " style="left:263.4px;top:298px;font-size:8.1px;line-height:9px;">See fig.5.</div>
<div class="t f" style="left:420.2px;top:405px;font-size:6.2px;line-height:7px;">fig.5</div>
<div class="t " style="left:264.3px;top:422px;font-size:10.5px;line-height:12px;">•</div>
<div class="t " style="left:270.3px;top:424px;font-size:8.1px;line-height:9px;">Unroll the fly, upside down, on the ground. Locate</div>
<div class="t " style="left:270.3px;top:433px;font-size:8.1px;line-height:9px;">the web pockets in the center of the fly and insert</div>
<div class="t " style="left:270.3px;top:443px;font-size:8.1px;line-height:9px;">the assembled fly rod into these pockets.</div>
<div class="t " style="left:263.4px;top:452px;font-size:8.1px;line-height:9px;">See fig.6 &amp; fig.7.</div>
<div class="t f" style="left:637.8px;top:133px;font-size:6.2px;line-height:7px;">fig.6</div>
<div class="t f" style="left:754.3px;top:107px;font-size:6.2px;line-height:7px;">fig.7</div>
<div class="t f" style="left:690.8px;top:217px;font-size:6.2px;line-height:7px;">fig.8</div>
<div class="t f" style="left:747.0px;top:328px;font-size:6.2px;line-height:7px;">fig.9</div>
<div class="t f" style="left:746.5px;top:404px;font-size:6.2px;line-height:7px;">fig.10</div>
<div class="t " style="left:519.9px;top:207px;font-size:10.5px;line-height:12px;">•</div>
<div class="t " style="left:526.2px;top:209px;font-size:8.1px;line-height:9px;">Turn the fly right side up and drape it on</div>
<div class="t " style="left:526.2px;top:219px;font-size:8.1px;line-height:9px;">the tent with the Eureka! logo over the</div>
<div class="t " style="left:526.2px;top:228px;font-size:8.1px;line-height:9px;">door. Reach under the fly and wrap each</div>
<div class="t " style="left:526.2px;top:238px;font-size:8.1px;line-height:9px;">Velcro® strap around a pole. See fig.8.</div>
<div class="t " style="left:519.9px;top:255px;font-size:10.5px;line-height:12px;">•</div>
<div class="t " style="left:526.2px;top:257px;font-size:8.1px;line-height:9px;">Attach the web buckle from each corner</div>
<div class="t " style="left:526.2px;top:266px;font-size:8.1px;line-height:9px;">of the fly to its mate on the corner tent</div>
<div class="t " style="left:526.2px;top:276px;font-size:8.1px;line-height:9px;">web. Adjust the web to proper tension.</div>
<div class="t " style="left:526.2px;top:285px;font-size:8.1px;line-height:9px;">See fig.9 &amp; fig10.</div>
<div class="t b" style="left:601.3px;top:410px;font-size:11.2px;line-height:12px;">Your Tent is Ready!</div>
<div class="t b" style="left:519.8px;top:420px;font-size:8.0px;line-height:9px;">Take down:</div>
<div class="t " style="left:520.4px;top:429px;font-size:10.5px;line-height:12px;">•</div>
<div class="t " style="left:526.5px;top:431px;font-size:8.2px;line-height:9px;">Pull up stakes and open doors. Pull posts out of the grommets and</div>
<div class="t " style="left:526.5px;top:440px;font-size:8.2px;line-height:9px;">push poles out of the sleeves. Collapse the tent poles and stow.</div>
<div class="t " style="left:526.5px;top:450px;font-size:8.2px;line-height:9px;">Fold the tent and fly thirds. Roll up both towards the door and stow.</div>
<div class="t f" style="left:752.4px;top:468px;font-size:5.5px;line-height:6px;">Rev. D 4-09</div>
</div></body></html>
